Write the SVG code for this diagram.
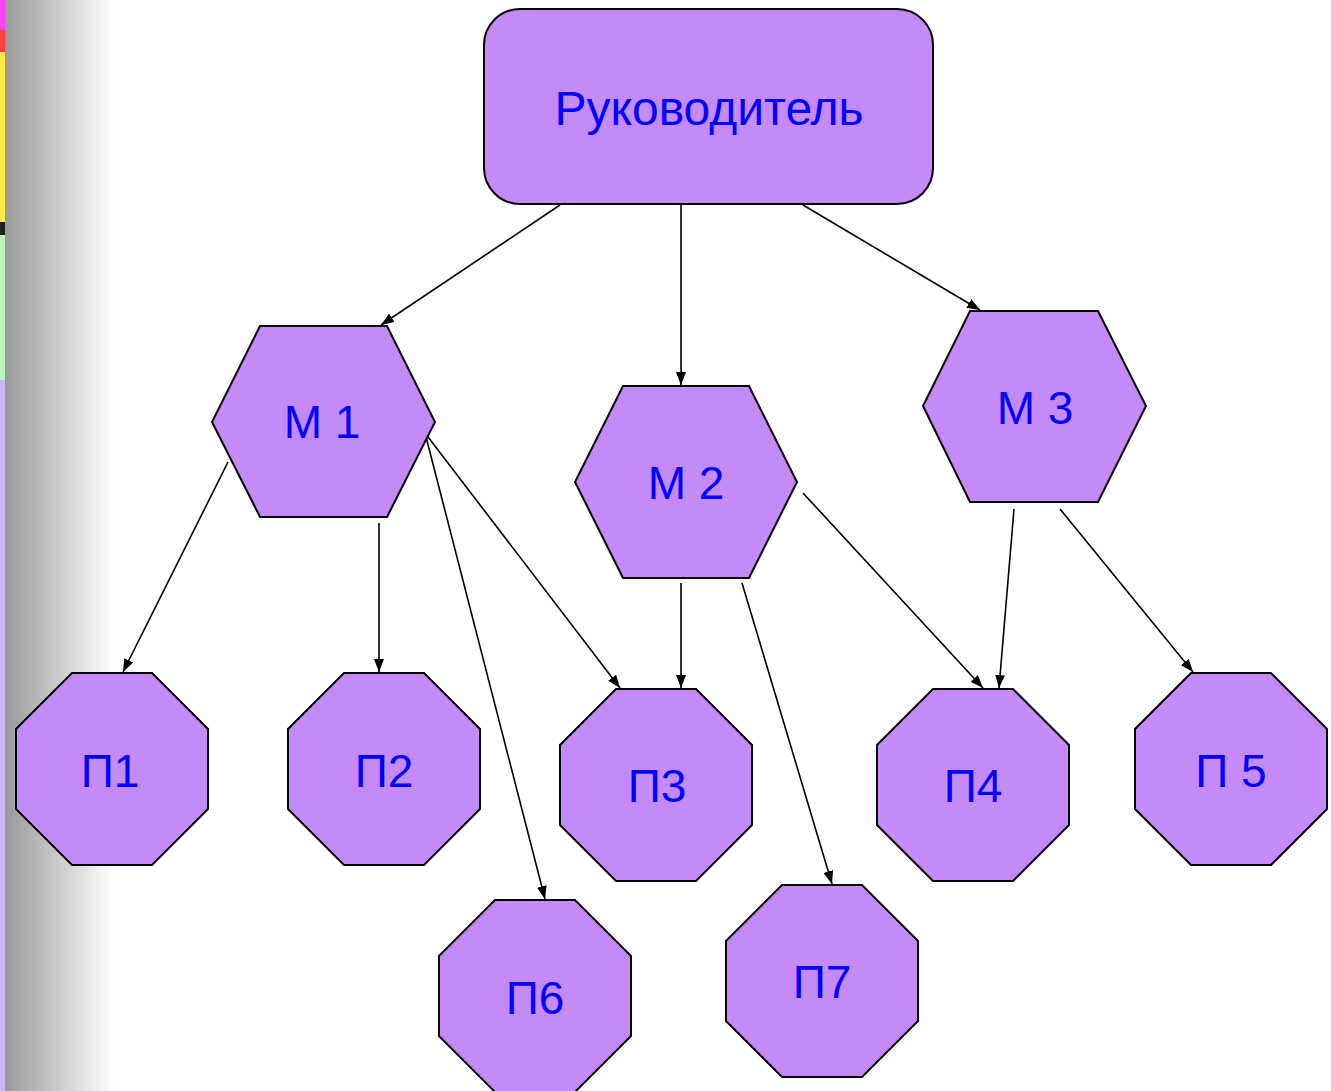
<svg xmlns="http://www.w3.org/2000/svg" width="1331" height="1091" viewBox="0 0 1331 1091">
<defs>
<linearGradient id="side" x1="0" y1="0" x2="1" y2="0">
<stop offset="0" stop-color="#999999"/>
<stop offset="1" stop-color="#ffffff"/>
</linearGradient>
<marker id="ah" markerUnits="userSpaceOnUse" markerWidth="14" markerHeight="10" refX="13" refY="5" orient="auto">
<path d="M0,0 L13,5 L0,10 Z" fill="#000"/>
</marker>
<style>
.n{fill:#C48BF8;stroke:#000;stroke-width:2}
.t{font-family:"Liberation Sans",Arial,sans-serif;font-size:46px;fill:#0000FF;text-anchor:middle}
.c line{stroke:#000;stroke-width:1.6;marker-end:url(#ah)}
</style>
</defs>
<rect x="0" y="0" width="1331" height="1091" fill="#fff"/>
<rect x="5" y="0" width="108" height="1091" fill="url(#side)"/>
<rect x="0" y="0" width="5" height="30" fill="#FF40FF"/>
<rect x="0" y="30" width="5" height="22" fill="#FF4040"/>
<rect x="0" y="52" width="5" height="170" fill="#FFE840"/>
<rect x="0" y="222" width="5" height="13" fill="#202020"/>
<rect x="0" y="235" width="5" height="145" fill="#C0F0C0"/>
<rect x="0" y="380" width="5" height="711" fill="#C8B8F8"/>

<g class="c" id="connectors">
<line x1="560" y1="205" x2="381" y2="325"/>
<line x1="681" y1="205" x2="681" y2="385"/>
<line x1="803" y1="205" x2="980" y2="310"/>
<line x1="228" y1="462" x2="123" y2="672"/>
<line x1="379" y1="523" x2="379" y2="672"/>
<line x1="425" y1="433" x2="545" y2="899"/>
<line x1="425" y1="433" x2="620" y2="688"/>
<line x1="681" y1="583" x2="681" y2="688"/>
<line x1="742" y1="583" x2="832" y2="884"/>
<line x1="803" y1="493" x2="983" y2="688"/>
<line x1="1014" y1="509" x2="999" y2="688"/>
<line x1="1060" y1="509" x2="1193" y2="672"/>
</g>

<g id="boss">
<rect class="n" x="484" y="9" width="449" height="195" rx="36" ry="36"/>
<text class="t" x="709" y="125" style="font-size:48px">Руководитель</text>
</g>
<g id="m1">
<polygon class="n" points="260,326 387,326 435,422 387,517 260,517 212,422"/>
<text class="t" x="322" y="438">М 1</text>
</g>
<g id="m2">
<polygon class="n" points="623,386 749,386 797,482 749,578 623,578 575,482"/>
<text class="t" x="686" y="499">М 2</text>
</g>
<g id="m3">
<polygon class="n" points="970,311 1098,311 1146,406 1098,502 970,502 923,406"/>
<text class="t" x="1035" y="424">М 3</text>
</g>
<g id="p1">
<polygon class="n" points="72,673 152,673 208,729 208,809 152,865 72,865 16,809 16,729"/>
<text class="t" x="110" y="787">П1</text>
</g>
<g id="p2">
<polygon class="n" points="344,673 424,673 480,729 480,809 424,865 344,865 288,809 288,729"/>
<text class="t" x="384" y="787">П2</text>
</g>
<g id="p3">
<polygon class="n" points="616,689 696,689 752,745 752,825 696,881 616,881 560,825 560,745"/>
<text class="t" x="657" y="802">П3</text>
</g>
<g id="p4">
<polygon class="n" points="933,689 1013,689 1069,745 1069,825 1013,881 933,881 877,825 877,745"/>
<text class="t" x="973" y="802">П4</text>
</g>
<g id="p5">
<polygon class="n" points="1191,673 1271,673 1327,729 1327,809 1271,865 1191,865 1135,809 1135,729"/>
<text class="t" x="1231" y="787">П 5</text>
</g>
<g id="p6">
<polygon class="n" points="495,900 575,900 631,956 631,1036 575,1092 495,1092 439,1036 439,956"/>
<text class="t" x="535" y="1014">П6</text>
</g>
<g id="p7">
<polygon class="n" points="782,885 862,885 918,941 918,1021 862,1077 782,1077 726,1021 726,941"/>
<text class="t" x="822" y="998">П7</text>
</g>
</svg>
